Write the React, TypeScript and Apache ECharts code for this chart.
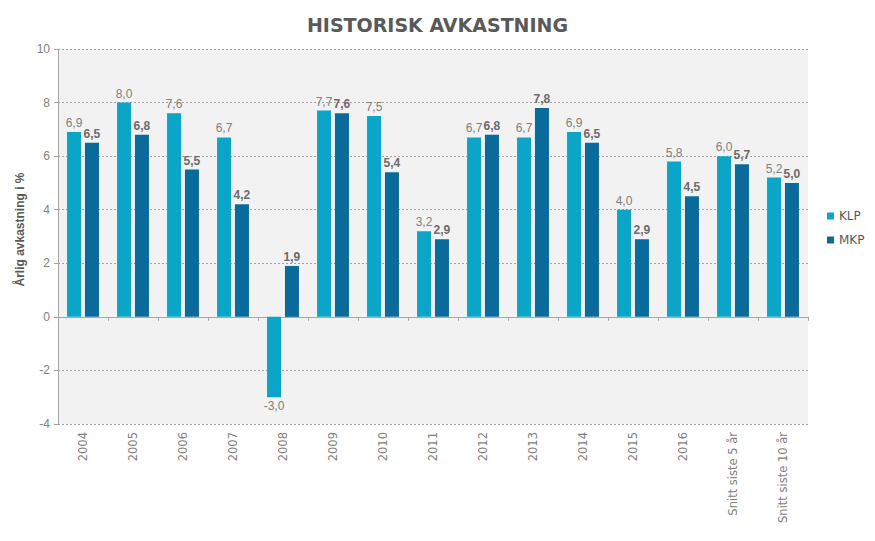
import React, { useEffect, useRef } from "react";
import * as echarts from "echarts";

const categories = ["2004", "2005", "2006", "2007", "2008", "2009", "2010", "2011", "2012", "2013", "2014", "2015", "2016", "Snitt siste 5 år", "Snitt siste 10 år"];
const klp = [6.9, 8.0, 7.6, 6.7, -3.0, 7.7, 7.5, 3.2, 6.7, 6.7, 6.9, 4.0, 5.8, 6.0, 5.2];
const mkp = [6.5, 6.8, 5.5, 4.2, 1.9, 7.6, 5.4, 2.9, 6.8, 7.8, 6.5, 2.9, 4.5, 5.7, 5.0];

const fmt = (v: number) => v.toFixed(1).replace(".", ",");

export default function App() {
  const ref = useRef<HTMLDivElement>(null);
  useEffect(() => {
    const chart = echarts.init(ref.current!, null, { renderer: "svg" });
    const mk = (vals: number[]) =>
      vals.map((v) => ({ value: v, label: { position: v < 0 ? "bottom" : "top" } }));
    chart.setOption({
      animation: false,
      textStyle: { fontFamily: "Liberation Sans, Arial, sans-serif" },
      title: {
        text: "HISTORISK AVKASTNING",
        left: "center",
        top: 10,
        textStyle: { fontSize: 19, fontWeight: "bold", color: "#595959", fontFamily: "DejaVu Sans" },
      },
      legend: {
        orient: "vertical",
        left: 822,
        top: 205,
        itemWidth: 7,
        itemHeight: 7,
        itemGap: 12,
        icon: "rect",
        textStyle: { color: "#595959", fontSize: 12, fontFamily: "DejaVu Sans" },
        data: ["KLP", "MKP"],
      },
      grid: {
        left: 58,
        right: 67,
        top: 49,
        bottom: 117,
        show: true,
        backgroundColor: "#f2f2f2",
        borderWidth: 0,
        containLabel: false,
        outerBoundsMode: "none",
      },
      xAxis: {
        type: "category",
        data: categories,
        axisLine: { onZero: true, lineStyle: { color: "#a6a6a6" } },
        axisTick: { show: true, length: 4, lineStyle: { color: "#a6a6a6" } },
        axisLabel: {
          rotate: 90,
          color: "#7f7f7f",
          fontSize: 11.5,
          fontFamily: "DejaVu Sans",
          margin: 8,
          interval: 0,
        },
      },
      yAxis: {
        type: "value",
        min: -4,
        max: 10,
        interval: 2,
        name: "Årlig avkastning i %",
        nameLocation: "middle",
        nameGap: 25,
        nameTextStyle: { color: "#595959", fontSize: 12, fontWeight: "bold", padding: [0, 0, 0, 14] },
        axisLine: { show: true, lineStyle: { color: "#a6a6a6" } },
        axisTick: { show: true, length: 4, lineStyle: { color: "#a6a6a6" } },
        axisLabel: { color: "#7f7f7f", fontSize: 12, margin: 8 },
        splitLine: { lineStyle: { color: "#a0a0a0", type: [2, 2] } },
      },
      series: [
        {
          name: "KLP",
          type: "bar",
          data: mk(klp),
          barWidth: 14,
          barGap: "28%",
          itemStyle: { color: "#0ba5c7" },
          label: {
            show: true,
            color: "#7f7f7f",
            fontSize: 12,
            distance: 3,
            formatter: (p: any) => fmt(p.value),
          },
        },
        {
          name: "MKP",
          type: "bar",
          data: mk(mkp),
          barWidth: 14,
          itemStyle: { color: "#0a6a9a" },
          label: {
            show: true,
            color: "#6b6b6b",
            fontWeight: "bold",
            fontSize: 12,
            distance: 3,
            formatter: (p: any) => fmt(p.value),
          },
        },
      ],
    });
    return () => chart.dispose();
  }, []);
  return <div ref={ref} style={{ width: 875, height: 541, position: "absolute", left: 0, top: 0 }} />;
}
